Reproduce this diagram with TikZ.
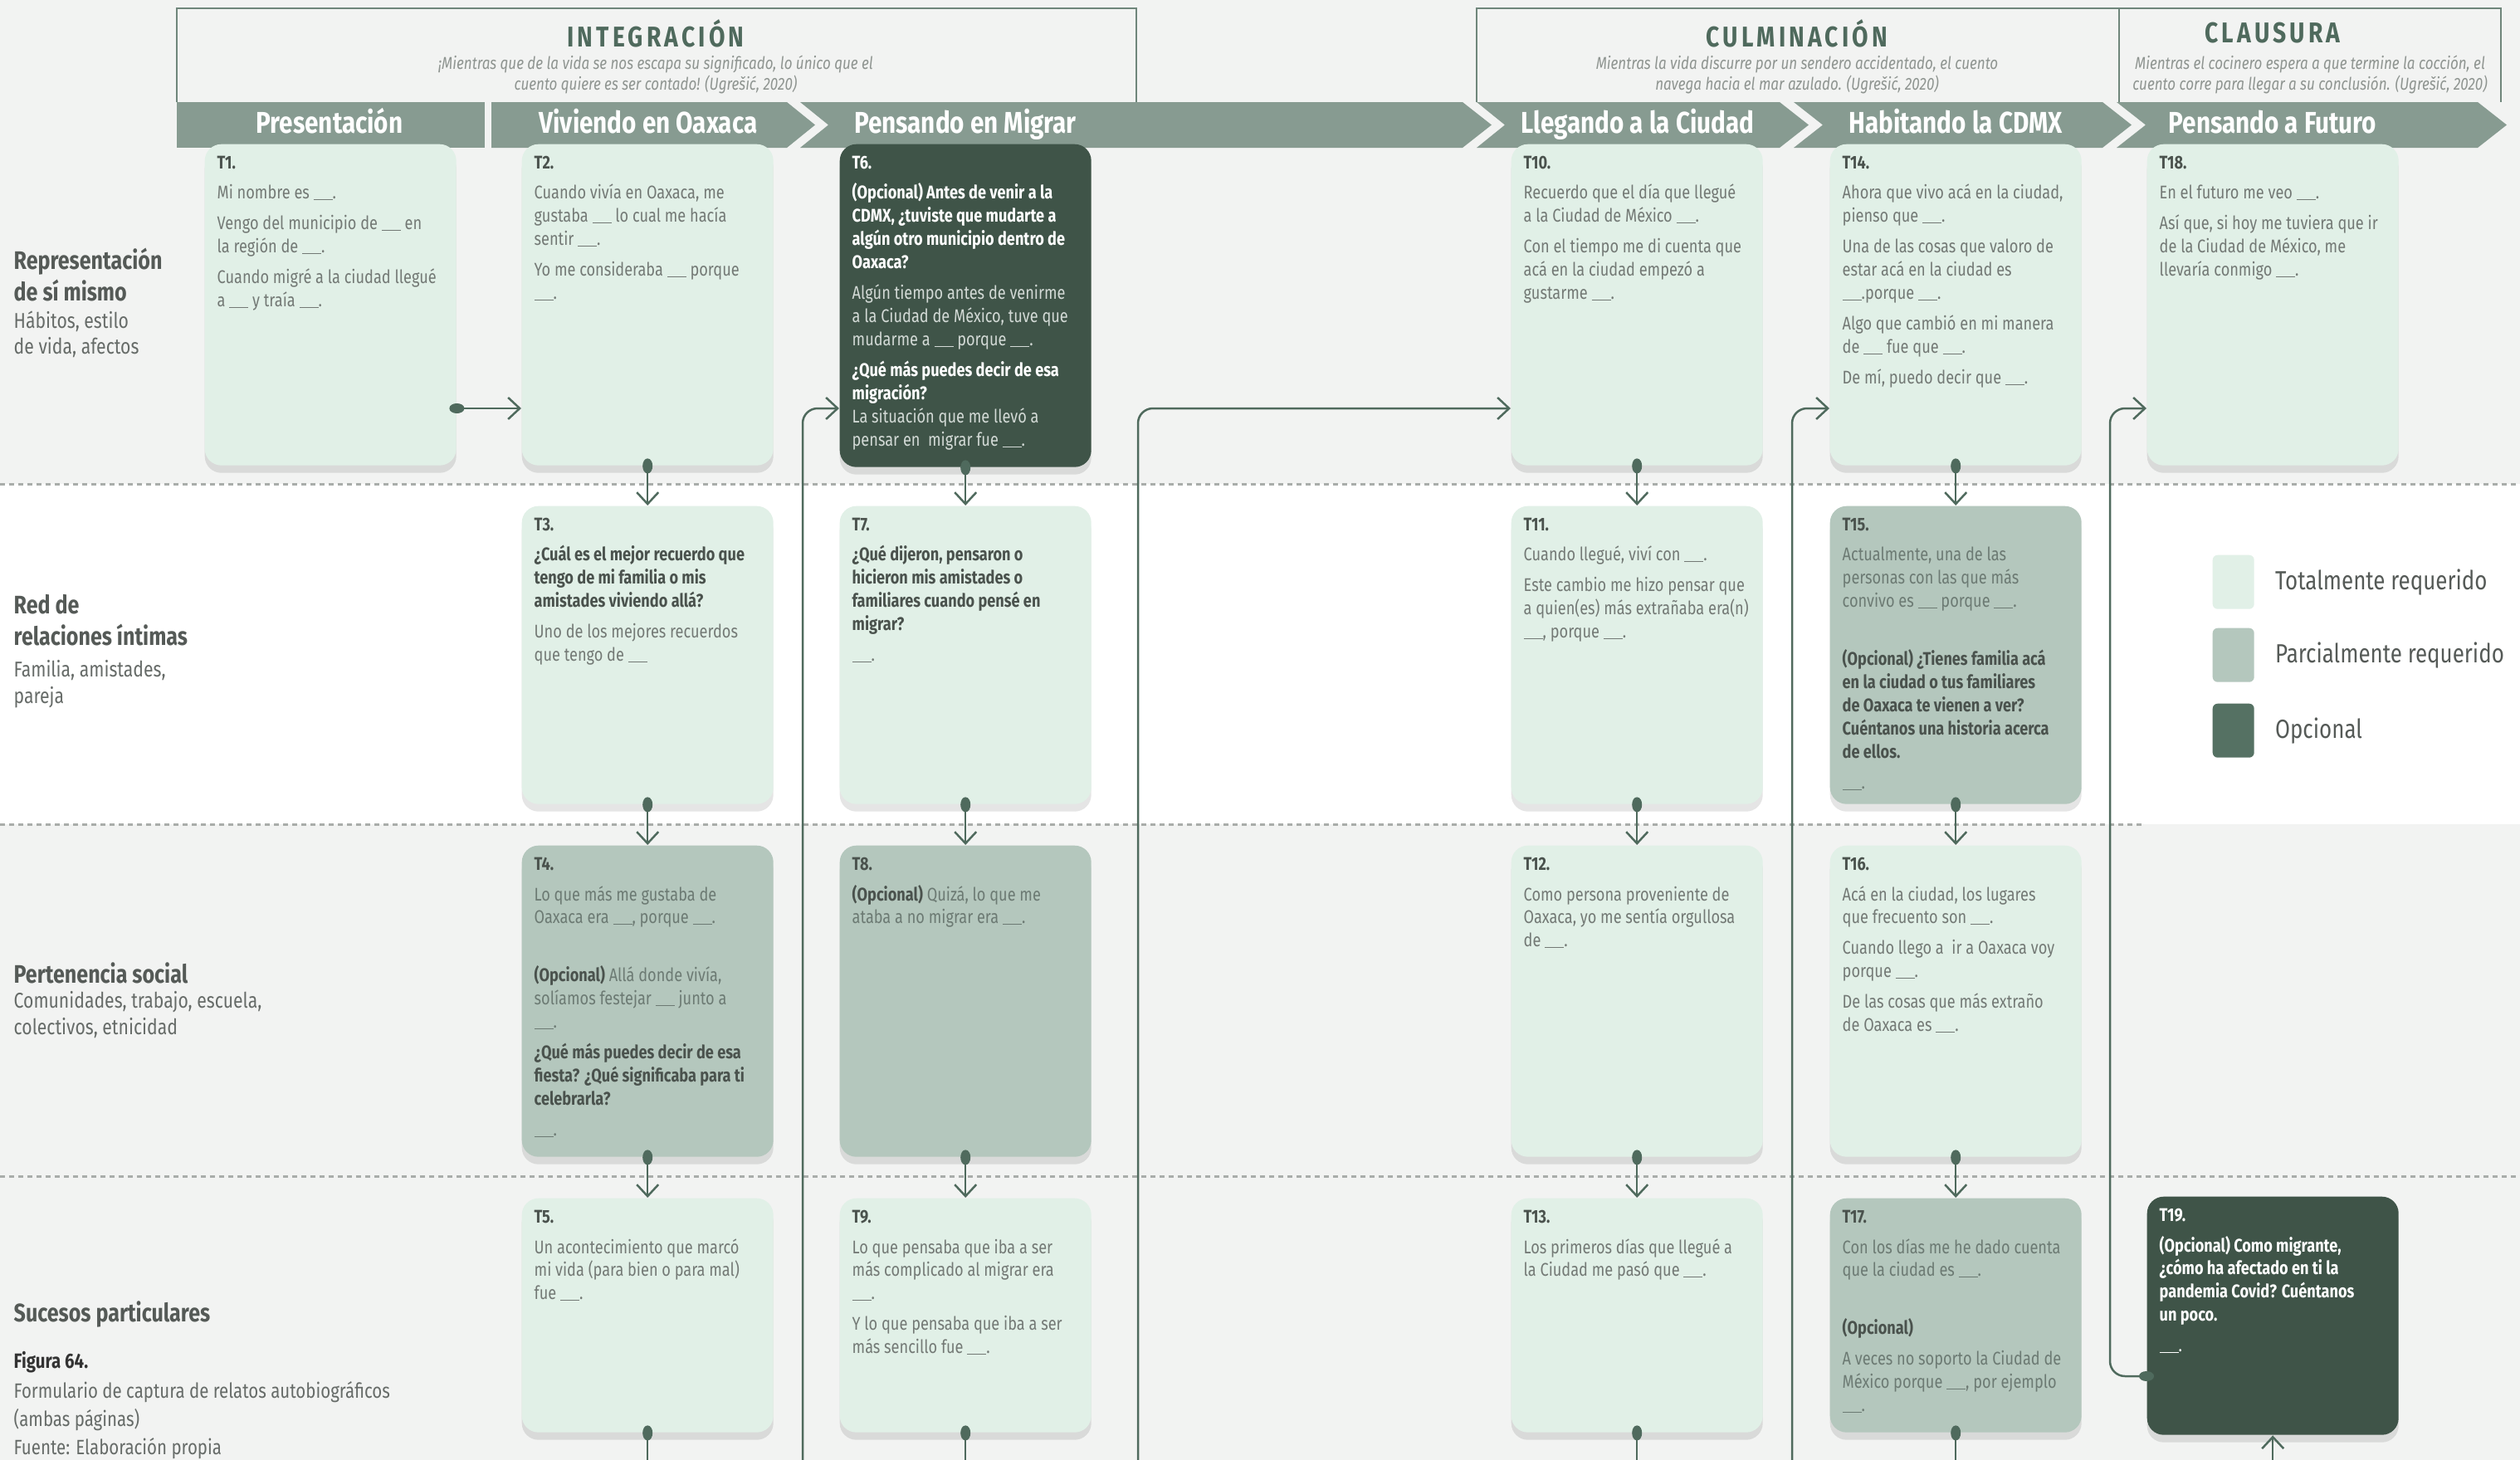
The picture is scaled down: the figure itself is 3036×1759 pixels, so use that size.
\documentclass[tikz,border=0pt]{standalone}
\usepackage{fontspec}
\setmainfont{Fira Sans}[FakeStretch=0.82]
\usetikzlibrary{arrows.meta, positioning, shadows}

\definecolor{fondo}{HTML}{F2F3F2}
\definecolor{banda}{HTML}{879B91}
\definecolor{verde}{HTML}{4F6A5D}
\definecolor{total}{HTML}{E1F0E7}
\definecolor{parcial}{HTML}{B4C7BD}
\definecolor{opcional}{HTML}{3F5448}
\definecolor{opcleg}{HTML}{557163}
\definecolor{texto}{HTML}{737975}
\definecolor{textop}{HTML}{6C7A73}
\definecolor{oscuro}{HTML}{4A524D}
\definecolor{claro}{HTML}{D3DAD6}
\definecolor{linea}{HTML}{A9ADAA}
\definecolor{cita}{HTML}{8E9490}
\definecolor{marcoc}{HTML}{6F867B}
\definecolor{rotulo}{HTML}{555A57}
\definecolor{rotsub}{HTML}{666B68}

\newcommand{\cardfont}{\fontsize{6.3pt}{7.95pt}\selectfont}
\newcommand{\raya}{\rule[-0.35pt]{2.3mm}{0.3pt}}
\newcommand{\tnum}[1]{{\bfseries\color{oscuro}#1}\par}
\newcommand{\preg}[1]{{\bfseries\color{oscuro}#1}}
\newcommand{\hueco}{\par\vspace{3.3mm}}

\begin{document}
\begin{tikzpicture}[
  x=0.1mm, y=-0.1mm,
  card/.style={rounded corners=2mm, inner xsep=1.5mm, inner ysep=1.4mm, anchor=north west,
    font=\cardfont, text=texto,
    drop shadow={shadow xshift=0mm, shadow yshift=-0.9mm, opacity=0.1, fill=black},
    execute at begin node={\begin{minipage}[c][#1][t]{27.3mm}\raggedright\setlength{\parskip}{0.9mm}},
    execute at end node={\end{minipage}}},
  tot/.style={card=#1, fill=total},
  parc/.style={card=#1, fill=parcial, text=textop},
  opc/.style={card=#1, fill=opcional, text=white},
  conn/.style={draw=verde, line width=0.25mm, rounded corners=1.8mm},
  flow/.style={conn, {Ellipse[length=1.8mm, width=1.2mm]}-{Straight Barb[length=1.4mm, width=2.6mm]}, shorten <=-0.9mm},
  exit/.style={conn, {Ellipse[length=1.8mm, width=1.2mm]}-, shorten <=-0.9mm},
  enter/.style={conn, -{Straight Barb[length=1.4mm, width=2.6mm]}},
  sep/.style={draw=linea, line width=0.3mm, dash pattern=on 0.6mm off 0.5mm},
  marco/.style={draw=marcoc, line width=0.2mm},
  etapa/.style={font=\fontsize{10.3pt}{11pt}\selectfont\bfseries, text=white, inner sep=0, anchor=base},
  fase/.style={font=\fontsize{9.8pt}{11pt}\selectfont\bfseries\addfontfeatures{LetterSpace=12}, text=verde, inner sep=0},
  cita/.style={font=\fontsize{5.9pt}{7.2pt}\selectfont\itshape, text=cita, align=center, inner sep=0},
  rowhead/.style={anchor=north west, align=left, inner sep=0, font=\fontsize{8.7pt}{10.8pt}\selectfont\bfseries, text=rotulo},
  rowsub/.style={anchor=north west, align=left, inner sep=0, font=\fontsize{7.35pt}{8.9pt}\selectfont, text=rotsub},
  leg/.style={minimum width=5mm, minimum height=6.5mm, rounded corners=0.6mm, inner sep=0, anchor=north west},
  legtxt/.style={font=\fontsize{9pt}{10pt}\selectfont, text=rotulo, inner sep=0},
]

\useasboundingbox (0,0) rectangle (3036,1759);
\fill[fondo] (0,0) rectangle (3036,1759);
\fill[white] (0,583) rectangle (3036,993);

% Row separators
\draw[sep] (0,583) -- (3036,583);
\draw[sep] (0,993) -- (2583,993);
\draw[sep] (0,1417) -- (3036,1417);

% Phase frames
\draw[marco] (213,123) -- (213,10) -- (1369,10) -- (1369,123);
\draw[marco] (1779,123) -- (1779,10) -- (3013,10) -- (3013,123);
\draw[marco] (2553,10) -- (2553,123);

\node[fase] (integ) at (790,40) {INTEGRACIÓN};
\node[fase] (culmi) at (2165,40) {CULMINACIÓN};
\node[fase] (clausu) at (2738,40) {CLAUSURA};
\node[cita] (cinteg) at (790,90) {¡Mientras que de la vida se nos escapa su significado, lo único que el\\cuento quiere es ser contado! (Ugrešić, 2020)};
\node[cita] (cculmi) at (2165,90) {Mientras la vida discurre por un sendero accidentado, el cuento\\navega hacia el mar azulado. (Ugrešić, 2020)};
\node[cita] (cclaus) at (2783,90) {Mientras el cocinero espera a que termine la cocción, el\\cuento corre para llegar a su conclusión. (Ugrešić, 2020)};

% Stage band
\fill[banda] (213,123) rectangle (584,178);
\fill[banda] (592,123) -- (948,123) -- (982,150.5) -- (948,178) -- (592,178) -- cycle;
\fill[banda] (964,123) -- (1762,123) -- (1797,150.5) -- (1762,178) -- (964,178) -- (998,150.5) -- cycle;
\fill[banda] (1779,123) -- (2144,123) -- (2179,150.5) -- (2144,178) -- (1779,178) -- (1813,150.5) -- cycle;
\fill[banda] (2161,123) -- (2533,123) -- (2568,150.5) -- (2533,178) -- (2161,178) -- (2196,150.5) -- cycle;
\fill[banda] (2550,123) -- (2985,123) -- (3020,150.5) -- (2985,178) -- (2550,178) -- (2585,150.5) -- cycle;

\node[etapa] (presen) at (397,160) {Presentación};
\node[etapa] (vivien) at (781,160) {Viviendo en Oaxaca};
\node[etapa] (pensmig) at (1163,160) {Pensando en Migrar};
\node[etapa] (llegan) at (1973,160) {Llegando a la Ciudad};
\node[etapa] (habit) at (2356,160) {Habitando la CDMX};
\node[etapa] (futuro) at (2738,160) {Pensando a Futuro};

% Row labels
\node[rowhead] (rep) at (16,298) {Representación\\de sí mismo};
\node[rowsub] (repsub) at (16,374) {Hábitos, estilo\\de vida, afectos};
\node[rowhead] (red) at (16,716) {Red de\\relaciones íntimas};
\node[rowsub] (redsub) at (16,795) {Familia, amistades,\\pareja};
\node[rowhead] (pert) at (16,1159) {Pertenencia social};
\node[rowsub] (pertsub) at (16,1194) {Comunidades, trabajo, escuela,\\colectivos, etnicidad};
\node[rowhead] (suc) at (16,1567) {Sucesos particulares};
\node[rowsub, font=\fontsize{7.1pt}{9.6pt}\selectfont\bfseries, text=black!80] (fig) at (16,1628) {Figura 64.};
\node[rowsub, font=\fontsize{7.1pt}{9.6pt}\selectfont] (figtxt) [below=0.9mm of fig.south west, anchor=north west] {Formulario de captura de relatos autobiográficos\\(ambas páginas)\\Fuente: Elaboración propia};

% Legend
\node[leg, fill=total] (lg1) at (2665,668) {};
\node[leg, fill=parcial] (lg2) at (2665,756) {};
\node[leg, fill=opcleg] (lg3) at (2665,847) {};
\node[legtxt, right=2.4mm of lg1] (lt1) {Totalmente requerido};
\node[legtxt, right=2.4mm of lg2] (lt2) {Parcialmente requerido};
\node[legtxt, right=2.4mm of lg3] (lt3) {Opcional};

% Presentacion
\node[tot=35.9mm] (t1) at (246,173) {\tnum{T1.}
Mi nombre es \raya.\par
Vengo del municipio de \raya{} en\\la región de \raya.\par
Cuando migré a la ciudad llegué\\a \raya{} y traía \raya.};

% Viviendo en Oaxaca
\node[tot=35.9mm] (t2) at (628,173) {\tnum{T2.}
Cuando vivía en Oaxaca, me\\gustaba \raya{} lo cual me hacía\\sentir \raya.\par
Yo me consideraba \raya{} porque\\\raya.};
\node[tot=33.1mm] (t3) at (628,609) {\tnum{T3.}
\preg{¿Cuál es el mejor recuerdo que\\tengo de mi familia o mis\\amistades viviendo allá?}\par
Uno de los mejores recuerdos\\que tengo de \raya};
\node[parc=34.7mm] (t4) at (628,1018) {\tnum{T4.}
Lo que más me gustaba de\\Oaxaca era \raya, porque \raya.\hueco
\preg{(Opcional)} Allá donde vivía,\\solíamos festejar \raya{} junto a\\\raya.\par
\preg{¿Qué más puedes decir de esa\\fiesta? ¿Qué significaba para ti\\celebrarla?}\par
\raya.};
\node[tot=25.4mm] (t5) at (628,1443) {\tnum{T5.}
Un acontecimiento que marcó\\mi vida (para bien o para mal)\\fue \raya.};

% Pensando en Migrar
\node[opc=36.1mm] (t6) at (1011,173) {{\bfseries T6.}\par
{\bfseries (Opcional) Antes de venir a la\\CDMX, ¿tuviste que mudarte a\\algún otro municipio dentro de\\Oaxaca?}\par
{\color{claro}Algún tiempo antes de venirme\\a la Ciudad de México, tuve que\\mudarme a \raya{} porque \raya.}\par
{\bfseries ¿Qué más puedes decir de esa\\migración?}\\
{\color{claro}La situación que me llevó a\\pensar en\ \ migrar fue \raya.}};
\node[tot=33.1mm] (t7) at (1011,609) {\tnum{T7.}
\preg{¿Qué dijeron, pensaron o\\hicieron mis amistades o\\familiares cuando pensé en\\migrar?}\par
\raya.};
\node[parc=34.7mm] (t8) at (1011,1018) {\tnum{T8.}
\preg{(Opcional)} Quizá, lo que me\\ataba a no migrar era \raya.};
\node[tot=25.4mm] (t9) at (1011,1443) {\tnum{T9.}
Lo que pensaba que iba a ser\\más complicado al migrar era\\\raya.\par
Y lo que pensaba que iba a ser\\más sencillo fue \raya.};

% Llegando a la Ciudad
\node[tot=35.9mm] (t10) at (1820,173) {\tnum{T10.}
Recuerdo que el día que llegué\\a la Ciudad de México \raya.\par
Con el tiempo me di cuenta que\\acá en la ciudad empezó a\\gustarme \raya.};
\node[tot=33.1mm] (t11) at (1820,609) {\tnum{T11.}
Cuando llegué, viví con \raya.\par
Este cambio me hizo pensar que\\a quien(es) más extrañaba era(n)\\\raya, porque \raya.};
\node[tot=34.7mm] (t12) at (1820,1018) {\tnum{T12.}
Como persona proveniente de\\Oaxaca, yo me sentía orgullosa\\de \raya.};
\node[tot=25.4mm] (t13) at (1820,1443) {\tnum{T13.}
Los primeros días que llegué a\\la Ciudad me pasó que \raya.};

% Habitando la CDMX
\node[tot=35.9mm] (t14) at (2204,173) {\tnum{T14.}
Ahora que vivo acá en la ciudad,\\pienso que \raya.\par
Una de las cosas que valoro de\\estar acá en la ciudad es\\\raya.porque \raya.\par
Algo que cambió en mi manera\\de \raya{} fue que \raya.\par
De mí, puedo decir que \raya.};
\node[parc=33.1mm] (t15) at (2204,609) {\tnum{T15.}
Actualmente, una de las\\personas con las que más\\convivo es \raya{} porque \raya.\hueco
\preg{(Opcional) ¿Tienes familia acá\\en la ciudad o tus familiares\\de Oaxaca te vienen a ver?\\Cuéntanos una historia acerca\\de ellos.}\par
\raya.};
\node[tot=34.7mm] (t16) at (2204,1018) {\tnum{T16.}
Acá en la ciudad, los lugares\\que frecuento son \raya.\par
Cuando llego a\ \ ir a Oaxaca voy\\porque \raya.\par
De las cosas que más extraño\\de Oaxaca es \raya.};
\node[parc=25.4mm] (t17) at (2204,1443) {\tnum{T17.}
Con los días me he dado cuenta\\que la ciudad es \raya.\hueco
\preg{(Opcional)}\par
A veces no soporto la Ciudad de\\México porque \raya, por ejemplo\\\raya.};

% Pensando a Futuro
\node[tot=35.9mm] (t18) at (2586,173) {\tnum{T18.}
En el futuro me veo \raya.\par
Así que, si hoy me tuviera que ir\\de la Ciudad de México, me\\llevaría conmigo \raya.};
\node[opc=25.9mm] (t19) at (2586,1441) {{\bfseries T19.}\par
{\bfseries (Opcional) Como migrante,\\¿cómo ha afectado en ti la\\pandemia Covid? Cuéntanos\\un poco.}\par
\raya.};

% Connectors
\coordinate (entry) at (0,492);
\coordinate (back) at (0,1658);
\coordinate (out) at (0,1759);
\coordinate (in6) at (967,1759);
\coordinate (in10) at (1371,1759);
\coordinate (in14) at (2159,1759);
\coordinate (ret) at (2542,492);

\draw[flow] (t1.east |- entry) -- (t2.west |- entry);
\foreach \a/\b in {t2/t3, t3/t4, t4/t5, t6/t7, t7/t8, t8/t9, t10/t11, t11/t12, t12/t13, t14/t15, t15/t16, t16/t17}
  \draw[flow] (\a.south) -- (\b.north);
\foreach \a in {t5, t9, t13, t17}
  \draw[exit] (\a.south) -- (\a.south |- out);
\draw[enter] (in6) |- (t6.west |- entry);
\draw[enter] (in10) |- (t10.west |- entry);
\draw[enter] (in14) |- (t14.west |- entry);
\draw[flow] (t19.west |- back) -| (ret) -- (t18.west |- entry);
\draw[enter] (t19.south |- out) -- (t19.south);

\end{tikzpicture}
\end{document}
